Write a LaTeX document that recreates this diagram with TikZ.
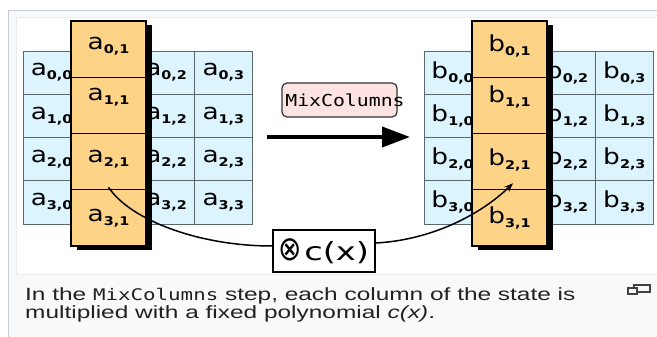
\documentclass[tikz,border=0pt]{standalone}
\usepackage{fontspec}
\setmainfont{Liberation Sans}[FakeStretch=1.38]
\newfontfamily\captionmono{DejaVu Sans Mono}[FakeStretch=1.3]
\newfontfamily\zellfont{DejaVu Sans}[FakeStretch=1.2]
\newfontfamily\codefont{DejaVu Sans Mono}[FakeStretch=1.2]
\newfontfamily\symbolfont{DejaVu Sans}[FakeStretch=0.82]
\newfontfamily\faktorfont{DejaVu Sans}[FakeStretch=1.35]
\usetikzlibrary{arrows.meta}
\definecolor{zellblau}{HTML}{DBF4FD}
\definecolor{zellorange}{HTML}{FDD388}
\definecolor{boxrosa}{HTML}{FDE4E2}
\definecolor{gitter}{HTML}{5A676C}
\definecolor{rahmengrau}{HTML}{C8CCD1}
\definecolor{rahmenhell}{HTML}{EAECF0}
\definecolor{seitengrau}{HTML}{F8F9FA}
\definecolor{textgrau}{HTML}{202122}
\newcommand{\zelltext}[2]{{\fontsize{22}{22}\selectfont #1}\raisebox{-4pt}{\fontsize{12}{12}\selectfont\bfseries #2}}
\tikzset{
  blauzelle/.style={draw=gitter, fill=zellblau, line width=0.8pt, minimum width=57.25pt,
    minimum height=43.25pt, inner sep=0pt, outer sep=0pt, font=\zellfont},
  orangezelle/.style={draw=black, fill=zellorange, line width=1.2pt, minimum width=75pt,
    minimum height=56.25pt, inner sep=0pt, outer sep=0pt},
  kurve/.style={draw=black, line width=1.5pt},
  captiontext/.style={anchor=base west, inner sep=0pt, text=textgrau,
    font=\fontsize{17.7}{17.7}\selectfont}
}
\begin{document}
\begin{tikzpicture}[x=1pt, y=-1pt, line join=miter]
  \useasboundingbox (0,0) rectangle (657,337);
  \clip (0,0) rectangle (657,337);
  % Rahmen der Abbildung
  \fill[white] (0,0) rectangle (657,337);
  \draw[draw=rahmengrau, fill=seitengrau, line width=0.8pt] (8.5,10.7) rectangle (680,360);
  \draw[draw=rahmenhell, fill=white, line width=0.8pt] (16.7,17.3) rectangle (680,274.5);
  % Zustaende a und b
  \foreach \zs/\dx in {a/0,b/401} {
    \foreach \zeile in {0,...,3}
      \foreach \spalte in {0,2,3}
        \node[blauzelle] (\zs\zeile\spalte) at ({23+\dx+57.25*(\spalte+0.5)}, {51+43.25*(\zeile+0.5)})
          {\zelltext{\zs}{\zeile,\spalte}};
    % Schatten der Spalte
    \fill[black] ({77+\dx},25) rectangle ({152+\dx},250);
    \foreach \zeile/\dy in {0/3,1/8,2/2,3/0}
      \node[orangezelle, label={[yshift=\dy pt, font=\zellfont]center:\zelltext{\zs}{\zeile,1}}]
        (\zs\zeile1) at ({108.5+\dx}, {21+56.25*(\zeile+0.5)}) {};
  }
  % MixColumns-Pfeil
  \node[draw=black!80, fill=boxrosa, line width=1.2pt, rounded corners=5pt, minimum width=115pt,
    minimum height=34pt, inner sep=0pt] (mixbox) at (339.5,100) {};
  \node[font=\codefont\fontsize{16.5}{16.5}\selectfont, inner sep=0pt] (mixtext) at (345,100) {MixColumns};
  \coordinate (pfeilanfang) at (267,137);
  \coordinate (pfeilspitze) at (410,137);
  \draw[line width=4pt, -{Triangle[length=28pt,width=20pt]}] (pfeilanfang) -- (pfeilspitze);
  % Multiplikation mit c(x)
  \node[draw=black, fill=white, line width=1.8pt, minimum width=102pt, minimum height=42pt,
    inner sep=0pt] (mulbox) at (324,251)
    {{\symbolfont\fontsize{34}{34}\selectfont ⊗}\hspace{2pt}{\faktorfont\fontsize{25}{25}\selectfont c(x)}};
  \coordinate (quelle) at ([yshift=2.5pt]a21.south);
  \coordinate (ziel) at ([xshift=3.5pt, yshift=6.5pt]b21.south);
  \draw[kurve] (quelle) .. controls +(22,33) and +(-73,0) .. ([yshift=5pt]mulbox.west);
  \draw[kurve, -{Stealth[length=9pt,width=7pt]}] ([yshift=8pt]mulbox.east)
    .. controls +(55,-3) and +(-33,32) .. (ziel);
  % Bildunterschrift
  \node[captiontext] (zeileeins) at (25,300)
    {In the {\captionmono\fontsize{16}{16}\selectfont MixColumns} step, each column of the state is};
  \node[captiontext] (zeilezwei) at (25,318) {multiplied with a fixed polynomial \textit{c(x)}.};
  % Vergroessern-Symbol
  \draw[draw=textgrau!85, fill=seitengrau, line width=1.2pt] (634,285) rectangle (650,292);
  \draw[draw=textgrau!85, fill=seitengrau, line width=1.2pt] (628,288) rectangle (637,294);
\end{tikzpicture}
\end{document}
